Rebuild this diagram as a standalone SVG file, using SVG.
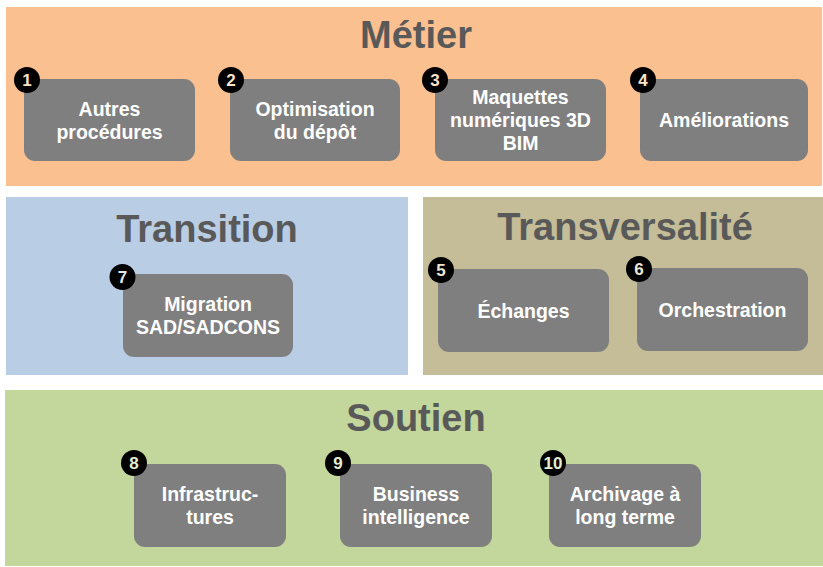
<svg xmlns="http://www.w3.org/2000/svg" width="823" height="567" viewBox="0 0 823 567">
  <style>
    .title { font-family: "Liberation Sans", Arial, sans-serif; font-weight: bold; font-size: 38px; fill: #595959; text-anchor: middle; }
    .box { fill: #7f7f7f; }
    .label { font-family: "Liberation Sans", Arial, sans-serif; font-weight: bold; font-size: 19.5px; fill: #ffffff; text-anchor: middle; }
    .badge { fill: #000000; }
    .num { font-family: "Liberation Sans", Arial, sans-serif; font-weight: bold; font-size: 17px; text-anchor: middle; }
    .m .num { fill: #fbe3c9; }
    .t .num { fill: #dfe8f4; }
    .x .num { fill: #ece7d4; }
    .s .num { fill: #e4eed0; }
  </style>

  <rect width="823" height="567" fill="#ffffff"/>

  <!-- Panels -->
  <g id="panel-metier">
    <rect x="6" y="7" width="816" height="179" fill="#fac090"/>
    <text class="title" x="416" y="48">Métier</text>
  </g>
  <g id="panel-transition">
    <rect x="6" y="197" width="402" height="178" fill="#b9cde5"/>
    <text class="title" x="207" y="242">Transition</text>
  </g>
  <g id="panel-transversalite">
    <rect x="423" y="197" width="400" height="178" fill="#c4bd97"/>
    <text class="title" x="625" y="240">Transversalité</text>
  </g>
  <g id="panel-soutien">
    <rect x="5" y="390" width="818" height="176" fill="#c3d69b"/>
    <text class="title" x="416" y="431">Soutien</text>
  </g>

  <!-- Connectors (none drawn) -->
  <g id="connectors"></g>

  <!-- Métier -->
  <g id="node-1" class="m">
    <rect class="box" x="24" y="79" width="171" height="82" rx="11"/>
    <text class="label" x="109.5" y="116">Autres</text>
    <text class="label" x="109.5" y="139">procédures</text>
    <circle class="badge" cx="27" cy="80" r="13"/>
    <text class="num" x="27" y="86">1</text>
  </g>
  <g id="node-2" class="m">
    <rect class="box" x="230" y="79" width="170" height="82" rx="11"/>
    <text class="label" x="315" y="116">Optimisation</text>
    <text class="label" x="315" y="139">du dépôt</text>
    <circle class="badge" cx="231" cy="80" r="13"/>
    <text class="num" x="231" y="86">2</text>
  </g>
  <g id="node-3" class="m">
    <rect class="box" x="435" y="79" width="171" height="82" rx="11"/>
    <text class="label" x="520.5" y="104">Maquettes</text>
    <text class="label" x="520.5" y="127">numériques 3D</text>
    <text class="label" x="520.5" y="150">BIM</text>
    <circle class="badge" cx="435" cy="80" r="13"/>
    <text class="num" x="435" y="86">3</text>
  </g>
  <g id="node-4" class="m">
    <rect class="box" x="640" y="79" width="168" height="82" rx="11"/>
    <text class="label" x="724" y="127">Améliorations</text>
    <circle class="badge" cx="643" cy="80" r="13"/>
    <text class="num" x="643" y="86">4</text>
  </g>

  <!-- Transition -->
  <g id="node-7" class="t">
    <rect class="box" x="123" y="274" width="170" height="83" rx="11"/>
    <text class="label" x="208" y="311">Migration</text>
    <text class="label" x="208" y="334">SAD/SADCONS</text>
    <circle class="badge" cx="122.5" cy="277" r="13"/>
    <text class="num" x="122.5" y="283">7</text>
  </g>

  <!-- Transversalité -->
  <g id="node-5" class="x">
    <rect class="box" x="438" y="269" width="171" height="83" rx="11"/>
    <text class="label" x="523.5" y="318">Échanges</text>
    <circle class="badge" cx="441" cy="270" r="13"/>
    <text class="num" x="441" y="276">5</text>
  </g>
  <g id="node-6" class="x">
    <rect class="box" x="637" y="268" width="171" height="83" rx="11"/>
    <text class="label" x="722.5" y="317">Orchestration</text>
    <circle class="badge" cx="639" cy="269" r="13"/>
    <text class="num" x="639" y="275">6</text>
  </g>

  <!-- Soutien -->
  <g id="node-8" class="s">
    <rect class="box" x="134" y="464" width="152" height="83" rx="11"/>
    <text class="label" x="210" y="501">Infrastruc-</text>
    <text class="label" x="210" y="524">tures</text>
    <circle class="badge" cx="134" cy="463" r="13"/>
    <text class="num" x="134" y="469">8</text>
  </g>
  <g id="node-9" class="s">
    <rect class="box" x="340" y="464" width="152" height="83" rx="11"/>
    <text class="label" x="416" y="501">Business</text>
    <text class="label" x="416" y="524">intelligence</text>
    <circle class="badge" cx="338" cy="463" r="13"/>
    <text class="num" x="338" y="469">9</text>
  </g>
  <g id="node-10" class="s">
    <rect class="box" x="549" y="464" width="152" height="83" rx="11"/>
    <text class="label" x="625" y="501">Archivage à</text>
    <text class="label" x="625" y="524">long terme</text>
    <circle class="badge" cx="553" cy="463" r="13"/>
    <text class="num" x="553" y="469">10</text>
  </g>
</svg>
